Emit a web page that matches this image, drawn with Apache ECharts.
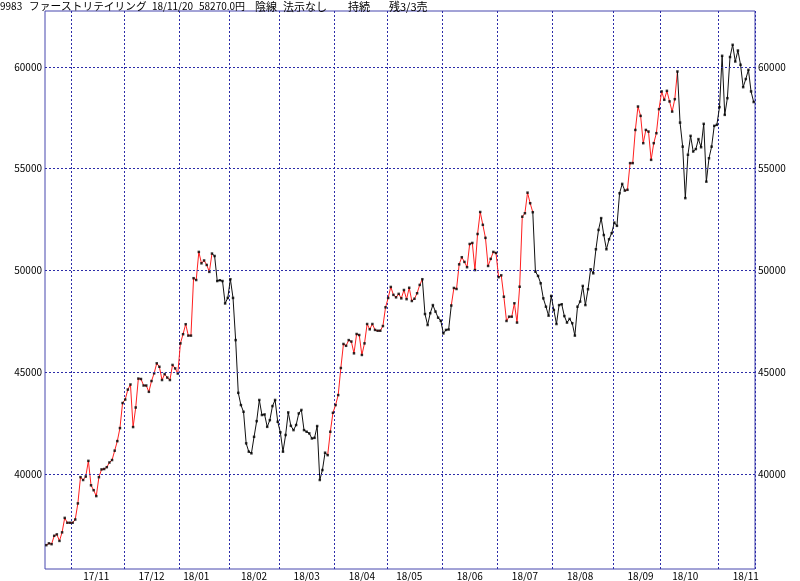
<!DOCTYPE html>
<html><head><meta charset="utf-8">
<script src="https://cdn.jsdelivr.net/npm/echarts@6/dist/echarts.min.js"></script>
<style>html,body{margin:0;padding:0;background:#fff}#c{width:800px;height:581px}</style>
</head><body><div id="c"></div>
<script>
// month labels (first month is partial, no label)
const monthLabels = ['17/10','17/11','17/12','18/01','18/02','18/03','18/04','18/05','18/06','18/07','18/08','18/09','18/10','18/11'];
// index (within month) of the trading day on/after the 15th, where the label sits
const labelDayOffsets = [null, 9, 10, 6, 9, 10, 10, 8, 10, 10, 10, 10, 9, 10];

// daily closes (yen) per month
const oct17 = [36510, 36600, 36560, 36970, 37040, 36720, 37140, 37850, 37610, 37610];
const nov17 = [37610, 37770, 38560, 39850, 39710, 39880, 40650, 39450, 39210, 38920, 39850, 40230, 40250, 40340, 40570, 40690, 41150, 41620, 42260, 43490];
const dec17 = [43660, 44150, 44400, 42310, 43270, 44690, 44670, 44350, 44350, 44040, 44570, 44950, 45440, 45270, 44620, 44910, 44740, 44620, 45360, 45190, 44940];
const jan18 = [46420, 46870, 47360, 46800, 46800, 49620, 49530, 50910, 50350, 50490, 50270, 49930, 50830, 50710, 49480, 49520, 49480, 48380, 48650];
const feb18 = [49570, 48650, 46580, 43990, 43390, 43060, 41510, 41100, 41020, 41830, 42600, 43640, 42900, 42930, 42320, 42650, 43340, 43640, 42570];
const mar18 = [42050, 41100, 41920, 43030, 42370, 42160, 42410, 42980, 43150, 42160, 42080, 42000, 41750, 41780, 42360, 39710, 40200, 41050, 40930, 42080, 43010];
const apr18 = [43390, 43880, 45210, 46390, 46300, 46580, 46510, 45930, 46880, 46830, 45850, 46420, 47370, 47110, 47370, 47080, 47040, 47040, 47270, 48190];
const may18 = [48650, 49190, 48800, 48680, 48850, 48630, 49040, 48590, 49150, 48500, 48610, 48880, 49290, 49570, 47860, 47320, 47900, 48300, 47980, 47680, 47530];
const jun18 = [46910, 47080, 47100, 48280, 49140, 49090, 50300, 50650, 50420, 50160, 51300, 51350, 50020, 51790, 52870, 52240, 51600, 50220, 50570, 50910, 50860];
const jul18 = [49670, 49760, 48710, 47520, 47730, 47730, 48390, 47440, 49200, 52640, 52810, 53820, 53300, 52860, 49940, 49730, 49370, 48630, 48220, 47780, 48750];
const aug18 = [48060, 47370, 48300, 48340, 47760, 47440, 47620, 47410, 46800, 48220, 48470, 49240, 48300, 49080, 50060, 49860, 51040, 51990, 52570, 51740, 51040, 51530, 51830];
const sep18 = [52350, 52190, 53790, 54250, 53920, 53960, 55270, 55270, 56900, 58050, 57590, 56250, 56900, 56820, 55430, 56250, 56740, 57920];
const oct18 = [58790, 58380, 58820, 58300, 57800, 58410, 59770, 57260, 56080, 53550, 55680, 56610, 55840, 55960, 56450, 56050, 57200, 54360, 55510, 56080, 57100, 57150];
const nov18 = [58020, 60540, 57640, 58460, 60480, 61080, 60260, 60800, 60100, 59000, 59400, 59850, 58790, 58270];
const monthValues = [oct17, nov17, dec17, jan18, feb18, mar18, apr18, may18, jun18, jul18, aug18, sep18, oct18, nov18];

// day-index ranges drawn in red (trend signal)
const redRanges = [[0, 63], [107, 143], [154, 185], [220, 240]];

const yTicks = [40000, 45000, 50000, 55000, 60000];
const yMin = 35340, yMax = 62740;

const titleTexts = ['9983', 'ファーストリテイリング', '18/11/20', '58270.0円', '陰線', '法示なし', '持続', '残3/3売'];
const titleX = [0, 29, 152, 199, 255, 283, 348, 389];
const titleSize = [10, 10.7, 10, 10, 11, 11, 11, 11];

// build
const categories = [], values = [], monthStart = [], labelIdx = {};
monthValues.forEach((arr, m) => {
  monthStart.push(values.length);
  if (labelDayOffsets[m] != null) labelIdx[values.length + labelDayOffsets[m]] = monthLabels[m];
  arr.forEach((v, d) => { categories.push(monthLabels[m] + '#' + (d + 1)); values.push(v); });
});
const startSet = new Set(monthStart.slice(1));
const n = values.length;
const isRedSeg = i => redRanges.some(([a, b]) => i >= a && i < b);
const redData = values.map((v, i) => ((i < n - 1 && isRedSeg(i)) || (i > 0 && isRedSeg(i - 1))) ? v : null);
const blackData = values.map((v, i) => ((i < n - 1 && !isRedSeg(i)) || (i > 0 && !isRedSeg(i - 1))) ? v : null);

const gridColor = '#2c2ca8';
const font = 'Noto Sans CJK JP';
const yAxisBase = {
  type: 'value', min: yMin, max: yMax,
  axisLine: { show: false }, axisTick: { show: false }, splitLine: { show: false },
  axisLabel: { customValues: yTicks, formatter: v => String(v), fontSize: 10, fontFamily: font, color: '#000', margin: 3 }
};

const chart = echarts.init(document.getElementById('c'));
chart.setOption({
  animation: false,
  backgroundColor: '#fff',
  grid: { left: 45, right: 45, top: 11, bottom: 12, show: true, borderColor: '#4646ae', borderWidth: 1 },
  xAxis: {
    type: 'category', data: categories, boundaryGap: true,
    axisLine: { show: false }, axisTick: { show: false },
    axisLabel: {
      interval: (i) => labelIdx[i] !== undefined,
      formatter: (v, i) => labelIdx[i] || '',
      fontSize: 10, fontFamily: font, color: '#000', margin: 2
    },
    splitLine: { show: true, interval: (i) => startSet.has(i), lineStyle: { color: gridColor, type: [2, 2], width: 1 } }
  },
  yAxis: [Object.assign({ position: 'left' }, yAxisBase), Object.assign({ position: 'right' }, yAxisBase)],
  graphic: titleTexts.map((t, k) => ({
    type: 'text', left: titleX[k], top: 1,
    style: { text: t, fontSize: titleSize[k], fontFamily: font, fill: '#000' }
  })),
  series: [
    {
      type: 'line', data: redData, connectNulls: false, showSymbol: false, z: 2,
      lineStyle: { color: '#ff2020', width: 1 }, itemStyle: { color: '#ff2020' },
      markLine: {
        silent: true, symbol: 'none', label: { show: false },
        lineStyle: { color: gridColor, type: [2, 2], width: 1 },
        data: yTicks.map(v => ({ yAxis: v }))
      }
    },
    {
      type: 'line', data: blackData, connectNulls: false, showSymbol: false, z: 2,
      lineStyle: { color: '#111', width: 1 }, itemStyle: { color: '#111' }
    },
    {
      type: 'scatter', data: values, symbol: 'rect', symbolSize: 2.5, z: 3,
      itemStyle: { color: '#000' }
    }
  ]
});
</script>
</body></html>
